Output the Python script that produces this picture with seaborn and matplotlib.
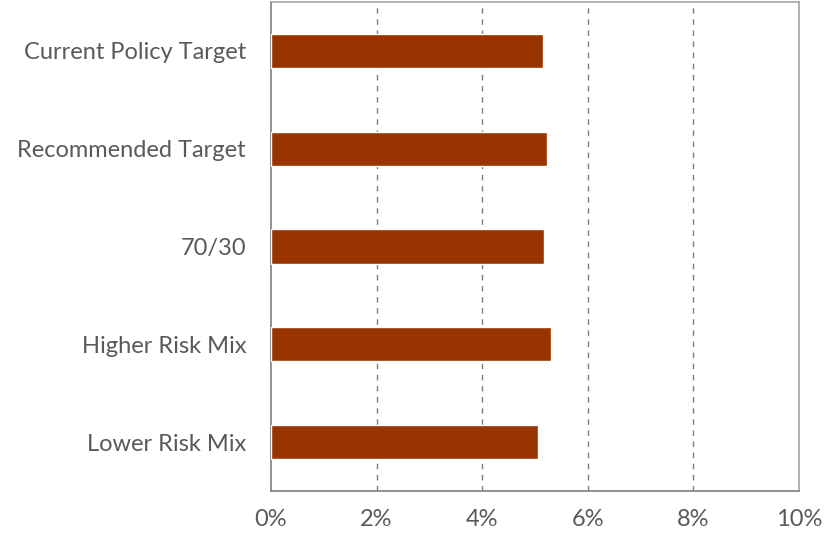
import matplotlib
matplotlib.use("Agg")
import matplotlib.pyplot as plt
import seaborn as sns
import pandas as pd
from matplotlib.ticker import FuncFormatter

categories = ["Current Policy Target", "Recommended Target", "70/30", "Higher Risk Mix", "Lower Risk Mix"]
values = [5.15, 5.22, 5.17, 5.30, 5.06]
xticks = [0, 2, 4, 6, 8, 10]

df = pd.DataFrame({"category": categories, "value": values})

sns.set_theme(style="white")
plt.rcParams['font.family'] = ['Lato', 'DejaVu Sans']

fig = plt.figure(figsize=(8.24, 5.39), dpi=100)
ax = fig.add_axes([271/824, 1-491/539, (799-271)/824, (491-2)/539])

sns.barplot(data=df, x="value", y="category", orient="h", color="#993300",
            saturation=1, width=0.35, ax=ax, zorder=3)

ax.set_xlim(0, 10)
ax.set_ylim(4.5, -0.5)
ax.set_xticks(xticks)
ax.xaxis.set_major_formatter(FuncFormatter(lambda v, p: f"{v:.0f}%"))
ax.set_xlabel("")
ax.set_ylabel("")

for x in xticks[1:-1]:
    ax.axvline(x, color="#7f7f7f", linestyle=(0, (4, 4)), linewidth=1, zorder=1)

for s in ["left", "bottom"]:
    ax.spines[s].set_color("#7f7f7f")
    ax.spines[s].set_linewidth(1.2)
for s in ["top", "right"]:
    ax.spines[s].set_color("#a6a6a6")
    ax.spines[s].set_linewidth(1.2)

ax.tick_params(axis="x", direction="in", length=5, color="#7f7f7f", width=1,
               labelsize=17, labelcolor="#595959", pad=13)
ax.tick_params(axis="y", length=0, labelsize=17, labelcolor="#595959", pad=18)

fig.savefig("out.png", dpi=100)
